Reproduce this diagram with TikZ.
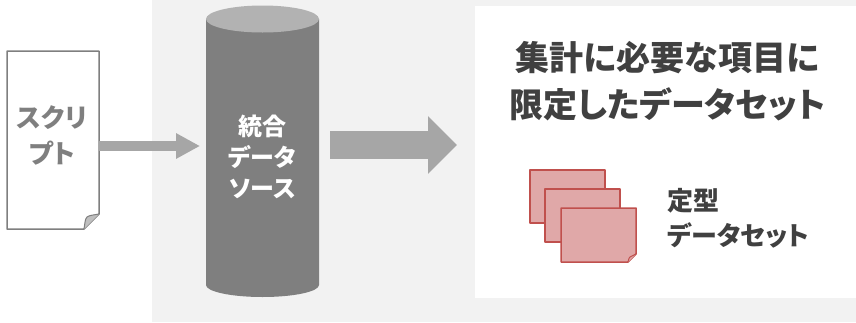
\documentclass[tikz,border=0pt]{standalone}
\usepackage{fontspec}
\setmainfont{Noto Sans CJK JP}[RawFeature=+palt]
\usetikzlibrary{arrows.meta}
\definecolor{bggray}{HTML}{F2F2F2}
\definecolor{arrowgray}{HTML}{A6A6A6}
\definecolor{cylbody}{HTML}{7F7F7F}
\definecolor{cyltop}{HTML}{B2B2B2}
\definecolor{docline}{HTML}{7F7F7F}
\definecolor{flapgray}{HTML}{BFBFBF}
\definecolor{darktext}{HTML}{404040}
\definecolor{redfill}{HTML}{E0A8A8}
\definecolor{redline}{HTML}{C0504D}
\tikzset{
  txt/.style={inner sep=0pt, font=\bfseries, align=center},
  docshape/.style={draw=docline, fill=white, line width=1.5pt, line join=round},
  sheet/.style={draw=redline, fill=redfill, line width=1.5pt, line join=round},
  thinarrow/.style={draw=arrowgray, line width=10pt, -{Triangle[length=24pt,width=24pt]}},
  thickarrow/.style={draw=arrowgray, line width=28pt, -{Triangle[length=29pt,width=56pt]}},
}
\begin{document}
\begin{tikzpicture}[x=1pt,y=-1pt]
\useasboundingbox (0,0) rectangle (856,322);
% backgrounds
\fill[bggray] (152,0) rectangle (856,322);
\fill[white] (475,6) rectangle (856,298);
% script document
\node[minimum width=92pt, minimum height=178pt, inner sep=0pt] (doc) at (53,140) {};
\draw[docshape] (7,51) -- (99,51) -- (99,214) -- (84,229) -- (7,229) -- cycle;
\draw[docshape, fill=flapgray, line width=1pt] (84,229) .. controls (85,223) and (85,219) .. (87,217) .. controls (90,215) and (94,215) .. (99,214);
\node[txt, text=cylbody, font=\bfseries\fontsize{26}{36}\selectfont] (script) at (52,135) {スクリ\\プト};
% cylinder
\fill[cylbody] (206,19) -- (206,285) arc[start angle=180, end angle=360, x radius=56.5, y radius=-12] -- (319,19) -- cycle;
\fill[cyltop] (262.5,19) ellipse[x radius=56.5, y radius=13.5];
\node[txt, text=white, font=\bfseries\fontsize{24}{31}\selectfont] (cyl) at (262.5,157) {統合\\データ\\ソース};
% arrow 1
\coordinate (a1s) at (99,146);
\coordinate (a1e) at (200,146);
\draw[thinarrow] (a1s) -- (a1e);
% arrow 2
\coordinate (a2s) at (330,145);
\coordinate (a2e) at (457,145);
\draw[thickarrow] (a2s) -- (a2e);
% title
\node[txt, text=darktext, font=\bfseries\fontsize{34}{47}\selectfont] (title) at (667.5,81) {集計に必要な項目に\\限定したデータセット};
% stacked sheets
\draw[sheet] (530,170) rectangle (605,223);
\draw[sheet] (545,189) rectangle (620,242);
\draw[sheet] (561,208) -- (636,208) -- (636,254) -- (628,262) -- (561,262) -- cycle;
\draw[sheet, line width=1pt] (628,262) .. controls (629,258) .. (630,257) .. controls (632,256) .. (636,254);
\node[txt, anchor=west, align=left, text=darktext, font=\bfseries\fontsize{26}{35}\selectfont] (sets) at (667,218) {定型\\データセット};
\end{tikzpicture}
\end{document}
